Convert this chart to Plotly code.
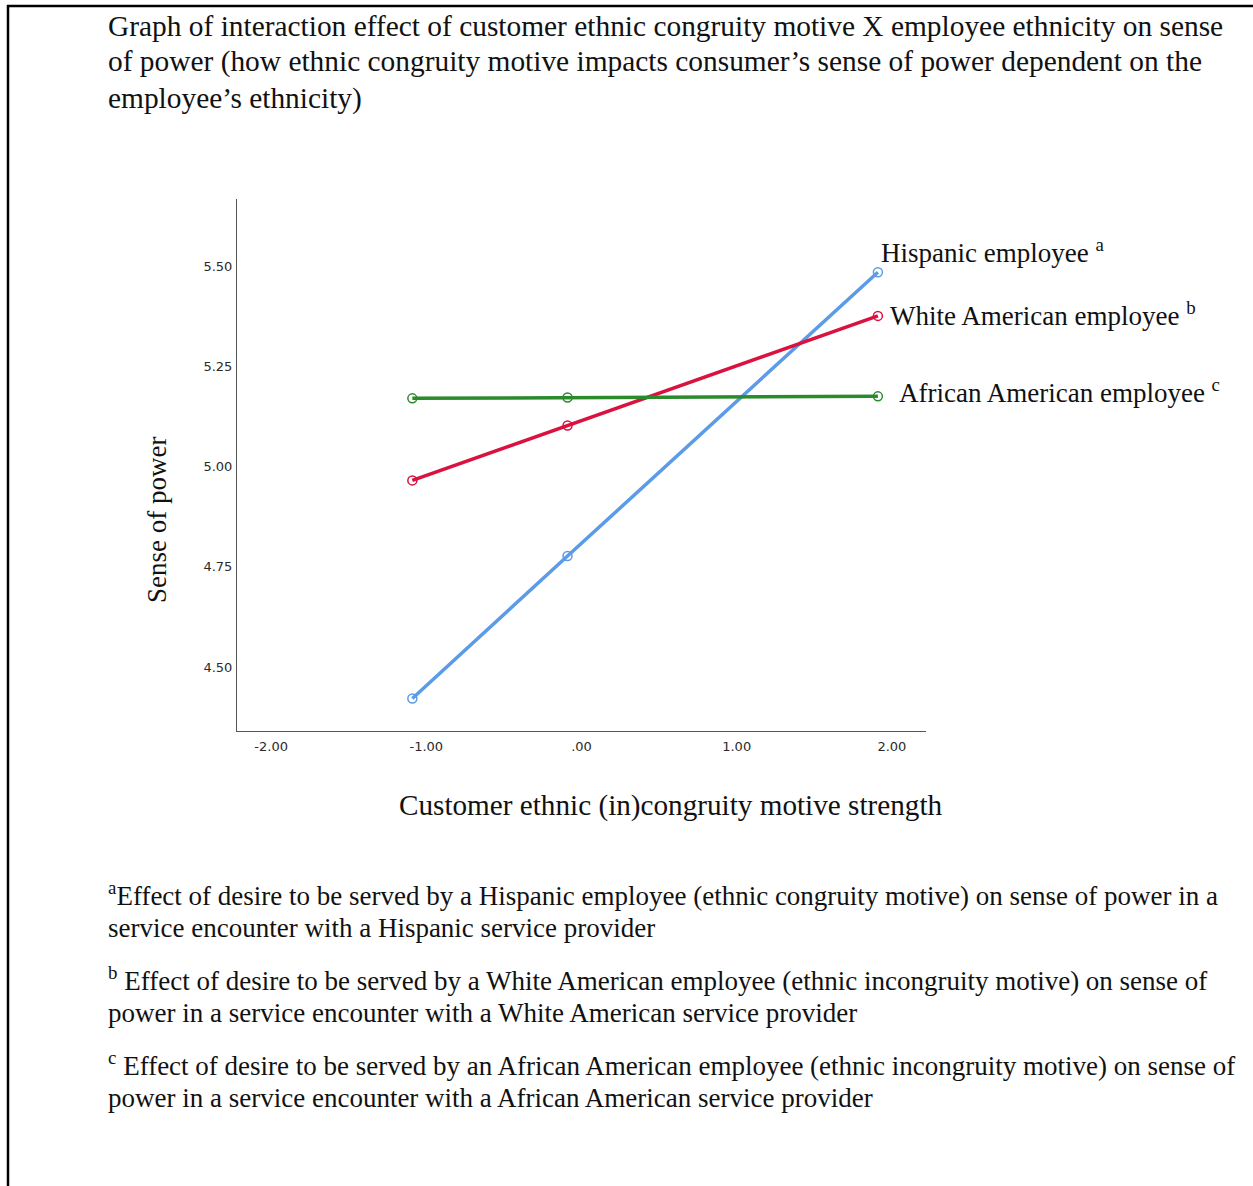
import plotly.graph_objects as go

# Simple-slope data: customer motive strength (centred) vs. sense of power
motive_levels = [-1.09, -0.09, 1.91]
hispanic_power = [4.421, 4.777, 5.486]
white_power = [4.966, 5.103, 5.377]
african_power = [5.171, 5.173, 5.176]

series_names = ["Hispanic employee", "White American employee", "African American employee"]
series_colors = ["#5b9be8", "#d9123f", "#2b8a2b"]

x_ticks = [-2, -1, 0, 1, 2]
x_tick_labels = ["-2.00", "-1.00", ".00", "1.00", "2.00"]
y_ticks = [4.50, 4.75, 5.00, 5.25, 5.50]
y_tick_labels = ["4.50", "4.75", "5.00", "5.25", "5.50"]

title_lines = [
    "Graph of interaction effect of customer ethnic congruity motive X employee ethnicity on sense",
    "of power (how ethnic congruity motive impacts consumer\u2019s sense of power dependent on the",
    "employee\u2019s ethnicity)",
]
footnote_lines = [
    "<sup>a</sup>Effect of desire to be served by a Hispanic employee (ethnic congruity motive) on sense of power in a",
    "service encounter with a Hispanic service provider",
    "<sup>b</sup> Effect of desire to be served by a White American employee (ethnic incongruity motive) on sense of",
    "power in a service encounter with a White American service provider",
    "<sup>c</sup> Effect of desire to be served by an African American employee (ethnic incongruity motive) on sense of",
    "power in a service encounter with a African American service provider",
]

W, H = 1253, 1186
L, R, T, B = 237, 926, 199, 731  # plot area in pixels


def px(x):
    return (x - L) / (R - L)


def py(y):
    return (B - y) / (B - T)


SERIF = "Liberation Serif"
TXT = "#111111"
fig = go.Figure()
for name, vals, col in zip(series_names, [hispanic_power, white_power, african_power], series_colors):
    fig.add_trace(go.Scatter(
        x=motive_levels, y=vals, mode="lines+markers", name=name,
        line=dict(color=col, width=3.5),
        marker=dict(symbol="circle-open", size=9, color=col, line=dict(width=1.5)),
        showlegend=False,
    ))


def note(text, x, y, size, **kw):
    d = dict(text=text, x=px(x), y=py(y), xref="paper", yref="paper", showarrow=False,
             xanchor="left", yanchor="middle", align="left",
             font=dict(family=SERIF, size=size, color=TXT))
    d.update(kw)
    return d


ann = []
# Title
for t, yy in zip(title_lines, [26, 62, 98]):
    ann.append(note(t, 106, yy, 29.4))
# Footnotes
for t, yy in zip(footnote_lines, [894, 928, 979, 1013, 1064, 1098]):
    ann.append(note(t, 106, yy, 27))
# Line labels
for name, sup, xx, yy in zip(series_names, ["a", "b", "c"], [879, 888, 897], [251, 314, 391]):
    ann.append(note(f"{name} <sup>{sup}</sup>", xx, yy, 27))
# Axis titles
ann.append(note("Customer ethnic (in)congruity motive strength", 671, 805, 29.2, xanchor="center"))
ann.append(note("Sense of power", 157, 520, 27, xanchor="center", textangle=-90))

# Page border (left and top edges)
shapes = [
    dict(type="line", xref="paper", yref="paper", x0=px(8), x1=px(8), y0=py(5), y1=py(1190),
         line=dict(color="black", width=2.5)),
    dict(type="line", xref="paper", yref="paper", x0=px(7), x1=px(1260), y0=py(6), y1=py(6),
         line=dict(color="black", width=2.5)),
]

tick_font = dict(family="DejaVu Sans", size=13, color="#2a2a2a")
fig.update_layout(
    width=W, height=H,
    margin=dict(l=L, r=W - R, t=T, b=H - B),
    paper_bgcolor="white", plot_bgcolor="white",
    annotations=ann, shapes=shapes,
    xaxis=dict(range=[-2.22, 2.22], tickvals=x_ticks, ticktext=x_tick_labels,
               showgrid=False, zeroline=False, showline=True, linecolor="#555555", linewidth=1,
               ticks="", ticklen=0, ticklabelstandoff=3, tickfont=tick_font),
    yaxis=dict(range=[4.34, 5.669], tickvals=y_ticks, ticktext=y_tick_labels,
               showgrid=False, zeroline=False, showline=True, linecolor="#555555", linewidth=1,
               ticks="", ticklen=0, ticklabelstandoff=1, tickfont=tick_font),
)

fig.write_html("out.html")
